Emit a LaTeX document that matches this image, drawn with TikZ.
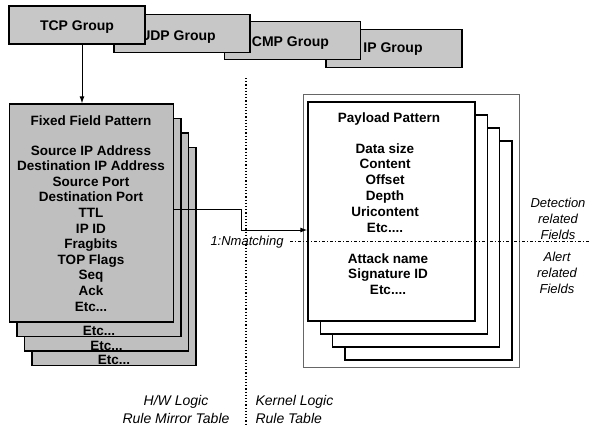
\documentclass[tikz,border=0pt]{standalone}
\usepackage{fontspec}
\setmainfont{Liberation Sans}
\usetikzlibrary{arrows.meta}
\newcommand{\etcthree}{Etc...}
\newcommand{\etcfour}{Etc....}
\tikzset{
every picture/.style={
line width=1pt
},
grp/.style={draw, line width=1.8pt, fill=black!22, minimum width=136pt, minimum height=38pt, inner sep=0pt},
grptext/.style={font=\fontsize{14}{16}\selectfont\bfseries, inner sep=0pt},
fixedbox/.style={draw, line width=1.3pt, fill=black!25, minimum width=164pt, minimum height=218pt, inner sep=0pt},
loadbox/.style={draw, line width=1.4pt, fill=white, minimum width=167pt, minimum height=219pt, inner sep=0pt},
field/.style={font=\fontsize{13.5}{15.6}\selectfont\bfseries, inner sep=0pt, text height=9pt, text depth=3pt},
side/.style={font=\fontsize{13}{16}\selectfont\itshape, align=center, inner sep=0pt},
bottom/.style={font=\fontsize{14}{18}\selectfont\itshape, inner sep=0pt}
}

\begin{document}
\begin{tikzpicture}[x=1pt, y=-1pt, >={Latex[length=7pt,width=5pt]}]
\useasboundingbox (0,0) rectangle (589,426);

\foreach \nm/\cx/\cy/\dx/\dy/\txt in {ip/394/48.5/-1/1/IP Group, icmp/292.5/40.5/-4/3/ICMP Group, udp/182/33.5/-4/4/UDP Group, tcp/77/25/0/2/TCP Group}{
  \node[grp] (\nm) at (\cx,\cy) {};
  \node[grptext] (\nm txt) at ({\cx+(\dx)},{\cy+(\dy)}) {\txt};
}

\foreach \k in {3,2,1}{
  \node[fixedbox] (fixed\k) at ({91.5+7.5*\k},{213+14.5*\k}) {};
  \node[field] (etc\k) at ({91.5+7.5*\k},{318+14.5*\k}) {\etcthree};
}
\node[fixedbox] (fixed) at (91.5,213) {};
\node[field] (fixedhead) at (91,122) {Fixed Field Pattern};
\foreach \f [count=\fn] in {Source IP Address, Destination IP Address, Source Port, Destination Port, TTL, IP ID, Fragbits, TOP Flags, Seq, Ack, \etcthree}{
  \node[field] (ff\fn) at (91,{136.4+15.6*\fn}) {\f};
}

\draw[->] ([xshift=5pt]tcp.south) -- ([xshift=5pt]tcp.south |- fixed.north);

\node[draw, black!60, line width=0.8pt, minimum width=216pt, minimum height=273pt, inner sep=0pt] (frame) at (411,230.5) {};
\foreach \k in {3,2,1}{
  \node[loadbox] (payload\k) at ({391.5+12.3*\k},{211.5+13*\k}) {};
}
\node[loadbox] (payload) at (391.5,211.5) {};
\node[field] (payhead) at (389,119) {Payload Pattern};
\foreach \f [count=\fn] in {Data size, Content, Offset, Depth, Uricontent, \etcfour}{
  \node[field] (pd\fn) at (385,{134.2+15.8*\fn}) {\f};
}
\foreach \f [count=\fn] in {Attack name, Signature ID, \etcfour}{
  \node[field] (pa\fn) at (388,{244.5+15.5*\fn}) {\f};
}

\draw[->] ([yshift=4pt]fixed.east) -- ++(67,0) |- ([yshift=-18.5pt]payload.west);
\node[side] (nmatch) at (247,242) {1:Nmatching};

\draw[dotted, line width=1.2pt] (246,78) -- (246,426);
\draw[dashdotted, line width=0.8pt] (290,241) -- (589,241);

\node[side] (detect) at (558,219) {Detection\\related\\Fields};
\node[side] (alert) at (557,273) {Alert\\related\\Fields};

\node[bottom, align=center] (hwlabel) at (176,409) {H/W Logic\\Rule Mirror Table};
\node[bottom, align=left, anchor=west] (kernlabel) at (255,409) {Kernel Logic\\Rule Table};

\end{tikzpicture}
\end{document}
